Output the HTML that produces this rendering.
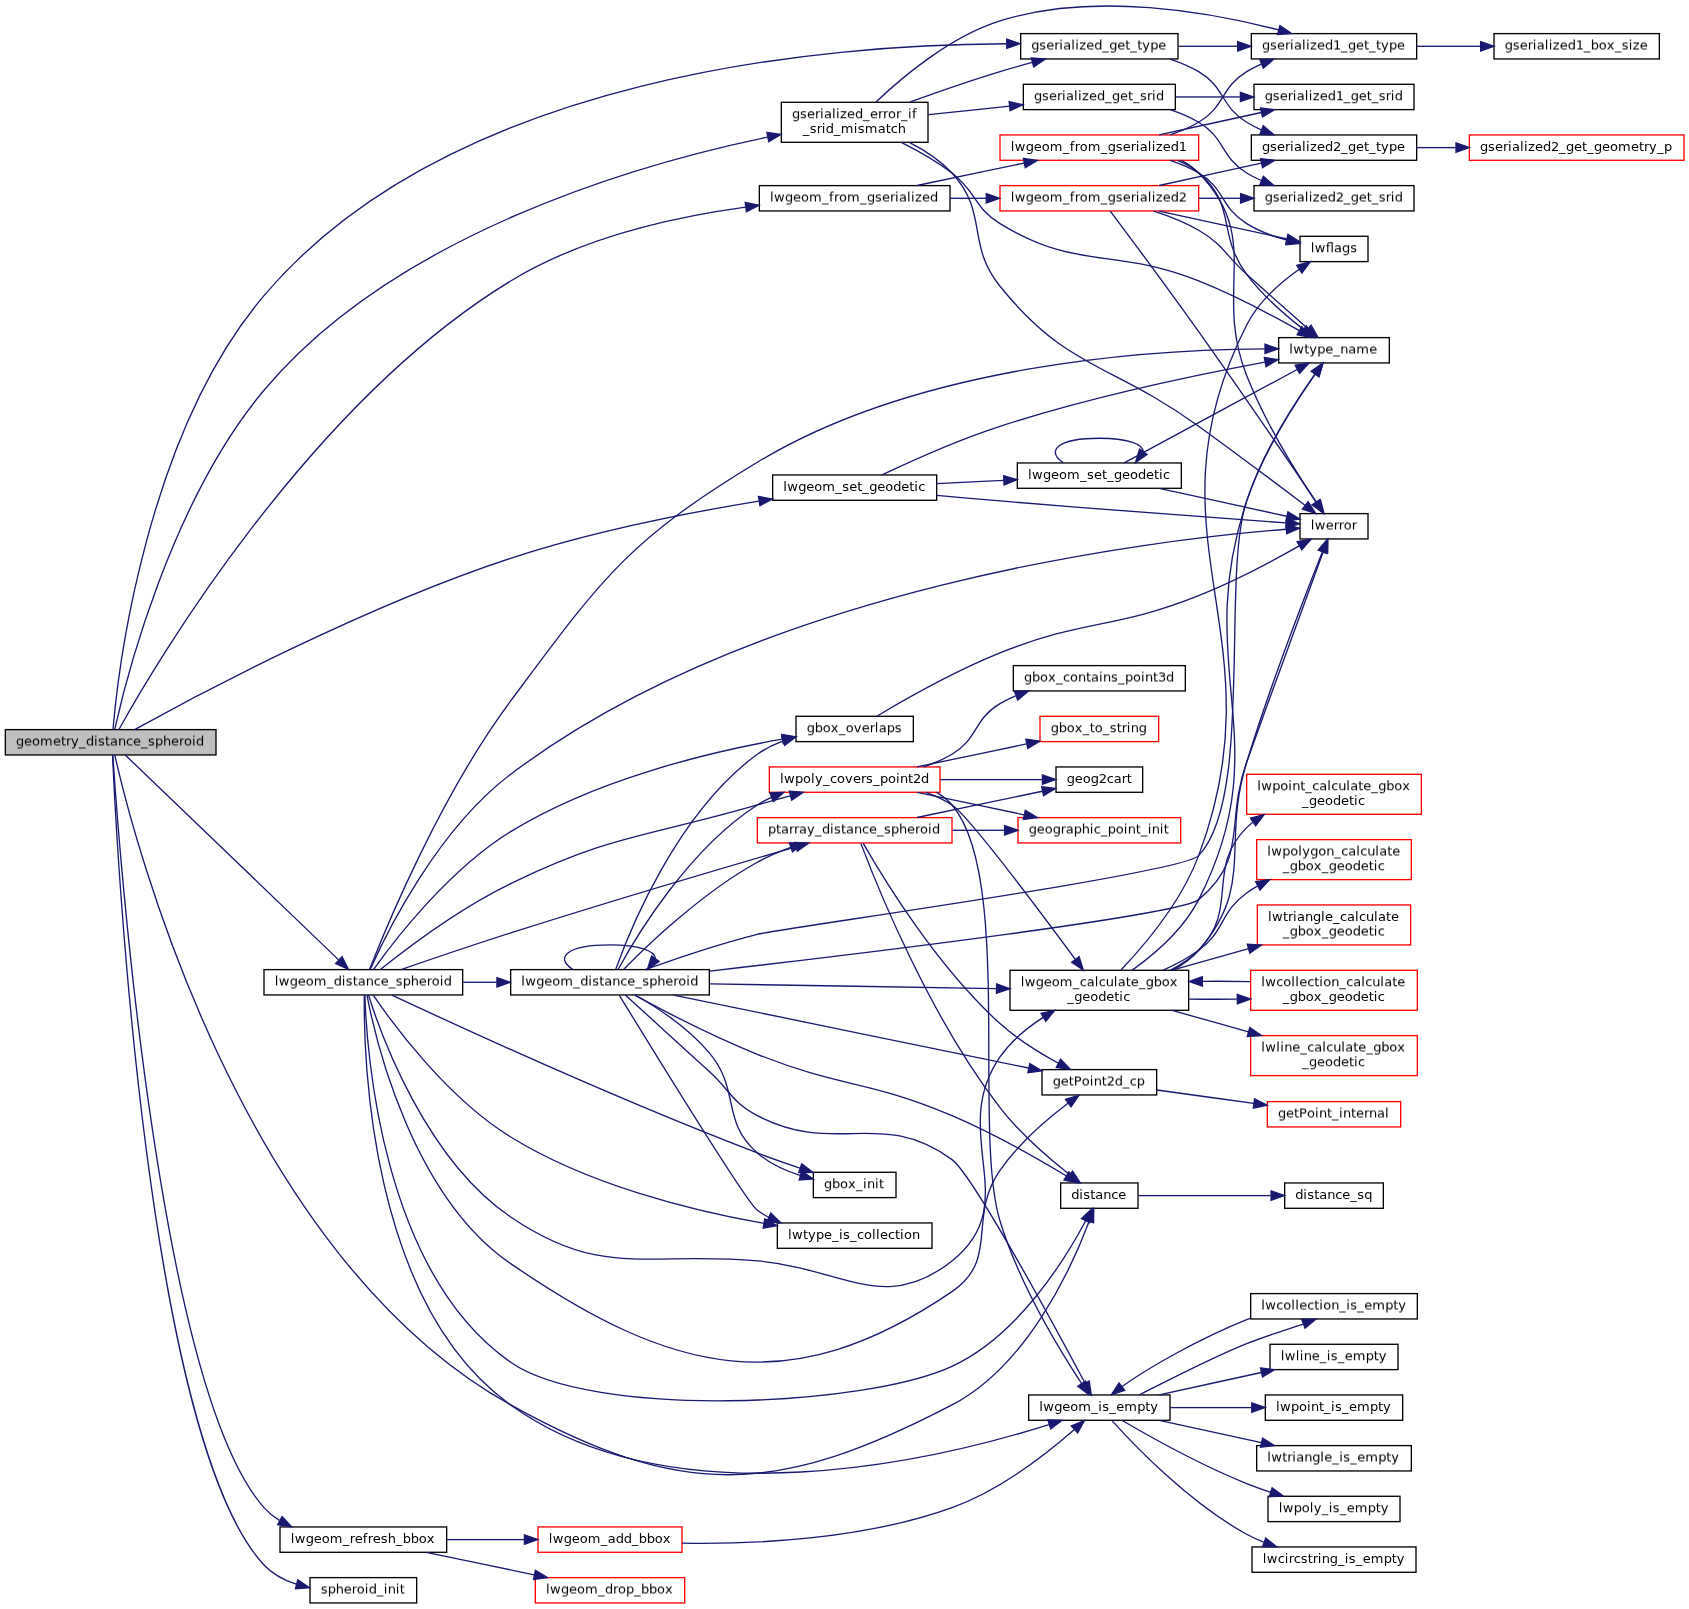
<!DOCTYPE html>
<html lang="en">
<head>
<meta charset="utf-8">
<title>geometry_distance_spheroid call graph</title>
<style>
html,body{margin:0;padding:0;background:#fff;}
body{width:1689px;height:1609px;overflow:hidden;}
svg{display:block;will-change:transform;}
text{font-family:"DejaVu Sans","Liberation Sans",sans-serif;font-size:9.75px;fill:#000;font-variant-ligatures:none;font-kerning:none;filter:url(#fn);}
text.lig{font-variant-ligatures:normal;}
text.h{filter:url(#fh);}
text.q{filter:url(#fq);}
</style>
</head>
<body>
<svg width="1689" height="1609" viewBox="0 0 1266.75 1206.75">
<defs><filter id="fn" x="-2%" y="-40%" width="104%" height="180%" color-interpolation-filters="sRGB"><feOffset in="SourceGraphic" dx="0" dy="0"/></filter><filter id="fh" x="-2%" y="-40%" width="104%" height="180%" color-interpolation-filters="sRGB"><feOffset in="SourceGraphic" dy="0.75" result="o"/><feComposite in="SourceGraphic" in2="o" operator="arithmetic" k1="0" k2="0.5" k3="0.5" k4="0"/></filter><filter id="fq" x="-2%" y="-40%" width="104%" height="180%" color-interpolation-filters="sRGB"><feOffset in="SourceGraphic" dy="0.75" result="o"/><feComposite in="SourceGraphic" in2="o" operator="arithmetic" k1="0" k2="0.75" k3="0.25" k4="0"/></filter></defs>
<g id="graph0" class="graph" transform="translate(4 1202.71)">
<polygon fill="white" stroke="none" points="-4,4 -4,-1202.71 1263,-1202.71 1263,4 -4,4"/>
<g id="node1" class="node">
<rect x="-0.5" y="-656" width="159" height="20" fill="black"/><rect x="0.5" y="-655" width="157" height="18" fill="#bfbfbf"/>
<text class="h" x="8 14 20 26 35.75 41.75 45.5 49.25 55.25 60.5 66.5 69.5 74.75 78.5 84.5 90.5 95.75 101.75 107 112.25 118.25 124.25 130.25 134 140 143" y="-643.96">geometry_distance_spheroid</text>
</g>
<g id="node2" class="node">
<rect x="791" y="-316" width="59" height="20" fill="black"/><rect x="792" y="-315" width="57" height="18" fill="white"/>
<text x="799.438 805.438 808.438 813.688 817.438 823.438 829.438 834.688" y="-303.46">distance</text>
</g>
<g id="edge1" class="edge">
<path fill="none" stroke="midnightblue" d="M82.09,-636.33C95.5,-577.11 175.28,-262.31 379,-149 507.56,-77.49 579.57,-80.95 710,-149 766.34,-178.39 799.61,-251.47 812.84,-286.57"/>
<polygon fill="midnightblue" stroke="midnightblue" points="809.61,-287.94 816.3,-296.16 816.19,-285.56 809.61,-287.94"/>
</g>
<g id="node4" class="node">
<rect x="581.5" y="-1126.5" width="111" height="31" fill="black"/><rect x="582.5" y="-1125.5" width="109" height="29" fill="white"/>
<text class="q" x="590 596 601.25 607.25 611 614 620 623 626 631.25 637.25 643.25 648.5 654.5 658.25 662 668 671.75 677 680" y="-1114.21">gserialized_error_if</text>
<text x="598.062 603.312 608.562 612.312 615.312 621.312 626.562 636.312 639.312 644.562 654.312 660.312 664.062 669.312" y="-1102.96">_srid_mismatch</text>
</g>
<g id="edge3" class="edge">
<path fill="none" stroke="midnightblue" d="M82.05,-655.7C90.27,-692.58 123.76,-826.22 194,-910 292.73,-1027.76 474.98,-1079.73 571.74,-1099.9"/>
<polygon fill="midnightblue" stroke="midnightblue" points="571.19,-1103.35 581.68,-1101.92 572.58,-1096.49 571.19,-1103.35"/>
</g>
<g id="node10" class="node">
<rect x="761" y="-1178" width="119" height="20" fill="black"/><rect x="762" y="-1177" width="117" height="18" fill="white"/>
<text class="h" x="769.438 775.438 780.688 786.688 790.438 793.438 799.438 802.438 805.438 810.688 816.688 822.688 827.938 833.938 839.938 843.688 848.938 852.688 858.688 864.688" y="-1165.96">gserialized_get_type</text>
</g>
<g id="edge15" class="edge">
<path fill="none" stroke="midnightblue" d="M80.75,-655.76C84.55,-699.08 105.15,-876.31 194,-981 335.74,-1148.01 619.97,-1169.43 750.76,-1169.9"/>
<polygon fill="midnightblue" stroke="midnightblue" points="751.04,-1173.4 761.04,-1169.9 751.04,-1166.4 751.04,-1173.4"/>
</g>
<g id="node15" class="node">
<rect x="193.5" y="-476" width="150" height="20" fill="black"/><rect x="194.5" y="-475" width="148" height="18" fill="white"/>
<text class="h" x="202.062 205.062 213.312 219.312 225.312 231.312 241.062 246.312 252.312 255.312 260.562 264.312 270.312 276.312 281.562 287.562 292.812 298.062 304.062 310.062 316.062 319.812 325.812 328.812" y="-463.96">lwgeom_distance_spheroid</text>
</g>
<g id="edge16" class="edge">
<path fill="none" stroke="midnightblue" d="M90.08,-636.32C120.48,-607.14 211.49,-519.77 249.99,-482.81"/>
<polygon fill="midnightblue" stroke="midnightblue" points="252.58,-485.18 257.37,-475.73 247.73,-480.13 252.58,-485.18"/>
</g>
<g id="node42" class="node">
<rect x="565" y="-1064" width="144" height="20" fill="black"/><rect x="566" y="-1063" width="142" height="18" fill="white"/>
<text class="h" x="573.5 576.5 584.75 590.75 596.75 602.75 612.5 617.75 621.5 625.25 631.25 641 646.25 652.25 657.5 663.5 667.25 670.25 676.25 679.25 682.25 687.5 693.5" y="-1051.96">lwgeom_from_gserialized</text>
</g>
<g id="edge69" class="edge">
<path fill="none" stroke="midnightblue" d="M85.21,-655.6C110.58,-701.33 226.14,-898.82 379,-992 432.48,-1024.6 501.96,-1040.06 555.2,-1047.39"/>
<polygon fill="midnightblue" stroke="midnightblue" points="554.91,-1050.88 565.28,-1048.71 555.82,-1043.94 554.91,-1050.88"/>
</g>
<g id="node45" class="node">
<rect x="205.5" y="-58" width="126" height="20" fill="black"/><rect x="206.5" y="-57" width="124" height="18" fill="white"/>
<text x="214.062 217.062 225.312 231.312 237.312 243.312 253.062 258.312 262.062 268.062 271.812 275.562 281.562 286.812 292.812 298.062 304.062 310.062 316.062" y="-45.46">lwgeom_refresh_bbox</text>
</g>
<g id="edge82" class="edge">
<path fill="none" stroke="midnightblue" d="M80.6,-636.42C85.07,-568.6 114.95,-161.12 194,-72 197.33,-68.24 201.26,-65.07 205.54,-62.4"/>
<polygon fill="midnightblue" stroke="midnightblue" points="207.51,-65.32 214.73,-57.57 204.25,-59.12 207.51,-65.32"/>
</g>
<g id="node48" class="node">
<rect x="575" y="-847" width="124" height="20" fill="black"/><rect x="576" y="-846" width="122" height="18" fill="white"/>
<text x="583.438 586.438 594.688 600.688 606.688 612.688 622.438 627.688 632.938 638.938 642.688 647.938 653.938 659.938 665.938 671.938 677.938 681.688 684.688" y="-834.46">lwgeom_set_geodetic</text>
</g>
<g id="edge86" class="edge">
<path fill="none" stroke="midnightblue" d="M96.96,-655.52C141.69,-680.26 267.13,-747.19 379,-784 440.46,-804.22 512.83,-818.32 565.09,-826.87"/>
<polygon fill="midnightblue" stroke="midnightblue" points="564.83,-830.37 575.26,-828.5 565.95,-823.46 564.83,-830.37"/>
</g>
<g id="node50" class="node">
<rect x="228" y="-20" width="81" height="20" fill="black"/><rect x="229" y="-19" width="79" height="18" fill="white"/>
<text class="h" x="236.562 241.812 247.812 253.812 259.812 263.562 269.562 272.562 278.562 283.812 286.812 292.812 295.812" y="-7.96">spheroid_init</text>
</g>
<g id="edge93" class="edge">
<path fill="none" stroke="midnightblue" d="M80.41,-636.12C83.62,-564.29 106.73,-122.63 194,-29 200.47,-22.06 209.11,-17.52 218.19,-14.58"/>
<polygon fill="midnightblue" stroke="midnightblue" points="219.34,-17.9 228.13,-11.98 217.57,-11.13 219.34,-17.9"/>
</g>
<g id="node3" class="node">
<rect x="959" y="-316" width="75" height="20" fill="black"/><rect x="960" y="-315" width="73" height="18" fill="white"/>
<text x="967.438 973.438 976.438 981.688 985.438 991.438 997.438 1002.688 1008.688 1013.938 1019.188" y="-303.46">distance_sq</text>
</g>
<g id="edge2" class="edge">
<rect x="849.84" y="-306.5" width="99.15" height="1" fill="midnightblue"/>
<polygon fill="midnightblue" stroke="midnightblue" points="949.31,-309.5 959.31,-306 949.31,-302.5 949.31,-309.5"/>
</g>
<g id="node5" class="node">
<rect x="934" y="-1178" width="125" height="20" fill="black"/><rect x="935" y="-1177" width="123" height="18" fill="white"/>
<text class="h" x="942.5 948.5 953.75 959.75 963.5 966.5 972.5 975.5 978.5 983.75 989.75 995.75 1001.75 1007 1013 1019 1022.75 1028 1031.75 1037.75 1043.75" y="-1165.96">gserialized1_get_type</text>
</g>
<g id="edge4" class="edge">
<path fill="none" stroke="midnightblue" d="M652.77,-1126.01C672.16,-1144.53 708.19,-1175.03 746,-1187 816.91,-1209.45 904.56,-1193.37 954.85,-1180.26"/>
<polygon fill="midnightblue" stroke="midnightblue" points="955.95,-1183.59 964.7,-1177.61 954.13,-1176.83 955.95,-1183.59"/>
</g>
<g id="node7" class="node">
<rect x="763" y="-1140" width="115" height="20" fill="black"/><rect x="764" y="-1139" width="113" height="18" fill="white"/>
<text class="q" x="771.5 777.5 782.75 788.75 792.5 795.5 801.5 804.5 807.5 812.75 818.75 824.75 830 836 842 845.75 851 856.25 860 863" y="-1127.71">gserialized_get_srid</text>
</g>
<g id="edge6" class="edge">
<path fill="none" stroke="midnightblue" d="M692.46,-1116.7C711.57,-1118.7 733.26,-1120.97 753.24,-1123.06"/>
<polygon fill="midnightblue" stroke="midnightblue" points="752.89,-1126.55 763.2,-1124.11 753.61,-1119.58 752.89,-1126.55"/>
</g>
<g id="edge9" class="edge">
<path fill="none" stroke="midnightblue" d="M678.25,-1126.08C698.45,-1133.41 723.37,-1142.11 746,-1149 753.8,-1151.38 762.12,-1153.71 770.25,-1155.89"/>
<polygon fill="midnightblue" stroke="midnightblue" points="769.48,-1159.3 780.04,-1158.46 771.26,-1152.53 769.48,-1159.3"/>
</g>
<g id="node13" class="node">
<rect x="970.5" y="-818" width="52" height="20" fill="black"/><rect x="971.5" y="-817" width="50" height="18" fill="white"/>
<text class="h" x="979.062 982.062 990.312 996.312 1000.062 1003.812 1009.812" y="-805.96">lwerror</text>
</g>
<g id="edge13" class="edge">
<path fill="none" stroke="midnightblue" d="M677.96,-1095.99C689.43,-1090.18 701.2,-1082.58 710,-1073 737.75,-1042.78 720.24,-1019.93 746,-988 796.86,-924.94 829.42,-930.56 895,-883 922.79,-862.85 954.47,-839.07 974.71,-823.78"/>
<polygon fill="midnightblue" stroke="midnightblue" points="977.03,-826.41 982.89,-817.58 972.8,-820.83 977.03,-826.41"/>
</g>
<g id="node14" class="node">
<rect x="954.5" y="-950" width="84" height="20" fill="black"/><rect x="955.5" y="-949" width="82" height="18" fill="white"/>
<text class="h" x="962.938 965.938 974.188 977.938 983.938 989.938 995.938 1001.188 1007.188 1013.188 1022.938" y="-937.96">lwtype_name</text>
</g>
<g id="edge14" class="edge">
<path fill="none" stroke="midnightblue" d="M671.98,-1095.93C684.48,-1089.67 698.4,-1081.8 710,-1073 728.53,-1058.94 726.13,-1047.09 746,-1035 804.88,-999.17 830.97,-1017.52 895,-992 921.62,-981.39 950.54,-965.98 970.49,-954.7"/>
<polygon fill="midnightblue" stroke="midnightblue" points="972.32,-957.68 979.25,-949.68 968.84,-951.61 972.32,-957.68"/>
</g>
<g id="node6" class="node">
<rect x="1116" y="-1178" width="125" height="20" fill="black"/><rect x="1117" y="-1177" width="123" height="18" fill="white"/>
<text class="h" x="1124.562 1130.562 1135.812 1141.812 1145.562 1148.562 1154.562 1157.562 1160.562 1165.812 1171.812 1177.812 1183.812 1189.062 1195.062 1201.062 1207.062 1212.312 1217.562 1220.562 1225.812" y="-1165.96">gserialized1_box_size</text>
</g>
<g id="edge5" class="edge">
<rect x="1058.69" y="-1168.5" width="47.58" height="1" fill="midnightblue"/>
<polygon fill="midnightblue" stroke="midnightblue" points="1106.48,-1171.5 1116.48,-1168 1106.48,-1164.5 1106.48,-1171.5"/>
</g>
<g id="node8" class="node">
<rect x="936" y="-1140" width="121" height="20" fill="black"/><rect x="937" y="-1139" width="119" height="18" fill="white"/>
<text class="q" x="944.562 950.562 955.812 961.812 965.562 968.562 974.562 977.562 980.562 985.812 991.812 997.812 1003.812 1009.062 1015.062 1021.062 1024.812 1030.062 1035.312 1039.062 1042.062" y="-1127.71">gserialized1_get_srid</text>
</g>
<g id="edge7" class="edge">
<rect x="877.51" y="-1130.5" width="48.37" height="1" fill="midnightblue"/>
<polygon fill="midnightblue" stroke="midnightblue" points="926.29,-1133.5 936.29,-1130 926.29,-1126.5 926.29,-1133.5"/>
</g>
<g id="node9" class="node">
<rect x="936" y="-1064" width="121" height="20" fill="black"/><rect x="937" y="-1063" width="119" height="18" fill="white"/>
<text class="h" x="944.562 950.562 955.812 961.812 965.562 968.562 974.562 977.562 980.562 985.812 991.812 997.812 1003.812 1009.062 1015.062 1021.062 1024.812 1030.062 1035.312 1039.062 1042.062" y="-1051.96">gserialized2_get_srid</text>
</g>
<g id="edge8" class="edge">
<path fill="none" stroke="midnightblue" d="M873.57,-1120.45C881.04,-1117.98 888.41,-1114.88 895,-1111 915.04,-1099.19 911.16,-1085.15 931,-1073 934.43,-1070.9 938.1,-1069.02 941.9,-1067.34"/>
<polygon fill="midnightblue" stroke="midnightblue" points="943.47,-1070.48 951.49,-1063.57 940.9,-1063.97 943.47,-1070.48"/>
</g>
<g id="edge10" class="edge">
<rect x="879.92" y="-1168.5" width="44.26" height="1" fill="midnightblue"/>
<polygon fill="midnightblue" stroke="midnightblue" points="924.25,-1171.5 934.25,-1168 924.25,-1164.5 924.25,-1171.5"/>
</g>
<g id="node11" class="node">
<rect x="934" y="-1102" width="125" height="20" fill="black"/><rect x="935" y="-1101" width="123" height="18" fill="white"/>
<text x="942.5 948.5 953.75 959.75 963.5 966.5 972.5 975.5 978.5 983.75 989.75 995.75 1001.75 1007 1013 1019 1022.75 1028 1031.75 1037.75 1043.75" y="-1089.46">gserialized2_get_type</text>
</g>
<g id="edge11" class="edge">
<path fill="none" stroke="midnightblue" d="M873.57,-1158.45C881.04,-1155.98 888.41,-1152.88 895,-1149 915.04,-1137.19 911.16,-1123.15 931,-1111 934.43,-1108.9 938.1,-1107.02 941.9,-1105.34"/>
<polygon fill="midnightblue" stroke="midnightblue" points="943.47,-1108.48 951.49,-1101.57 940.9,-1101.97 943.47,-1108.48"/>
</g>
<g id="node12" class="node">
<rect x="1097.5" y="-1102" width="162" height="20" fill="red"/><rect x="1098.5" y="-1101" width="160" height="18" fill="white"/>
<text x="1106 1112 1117.25 1123.25 1127 1130 1136 1139 1142 1147.25 1153.25 1159.25 1165.25 1170.5 1176.5 1182.5 1186.25 1191.5 1197.5 1203.5 1209.5 1219.25 1225.25 1229 1232.75 1238.75 1244" y="-1089.46">gserialized2_get_geometry_p</text>
</g>
<g id="edge12" class="edge">
<rect x="1058.69" y="-1092.5" width="29.07" height="1" fill="midnightblue"/>
<polygon fill="midnightblue" stroke="midnightblue" points="1087.99,-1095.5 1097.99,-1092 1087.99,-1088.5 1087.99,-1095.5"/>
</g>
<g id="edge17" class="edge">
<path fill="none" stroke="midnightblue" d="M269.66,-456.39C270.93,-414.72 282.12,-248.72 379,-181 439.29,-138.85 643.19,-147.23 710,-178 759.16,-200.64 794.47,-257.45 810.26,-287.18"/>
<polygon fill="midnightblue" stroke="midnightblue" points="807.18,-288.84 814.86,-296.14 813.41,-285.65 807.18,-288.84"/>
</g>
<g id="edge23" class="edge">
<path fill="none" stroke="midnightblue" d="M273.63,-475.63C285.74,-502.74 323.78,-580.37 379,-622 566.12,-763.07 860.13,-797.82 960.54,-805.79"/>
<polygon fill="midnightblue" stroke="midnightblue" points="960.5,-809.29 970.73,-806.55 961.02,-802.31 960.5,-809.29"/>
</g>
<g id="edge67" class="edge">
<path fill="none" stroke="midnightblue" d="M273.29,-475.89C285.55,-507.25 326.48,-606.51 379,-677 447.35,-768.75 466.09,-796.82 564,-856 685.95,-929.71 859.55,-940.58 944.58,-941.07"/>
<polygon fill="midnightblue" stroke="midnightblue" points="944.75,-944.57 954.75,-941.08 944.75,-937.57 944.75,-944.57"/>
</g>
<g id="node16" class="node">
<rect x="605.5" y="-324" width="63" height="20" fill="black"/><rect x="606.5" y="-323" width="61" height="18" fill="white"/>
<text class="q" x="614 620 626 632 638 643.25 646.25 652.25 655.25" y="-311.71">gbox_init</text>
</g>
<g id="edge18" class="edge">
<path fill="none" stroke="midnightblue" d="M289.95,-456.37C337.49,-434.13 459.36,-378.09 564,-338 574.26,-334.07 585.47,-330.16 595.92,-326.66"/>
<polygon fill="midnightblue" stroke="midnightblue" points="597.26,-329.91 605.66,-323.45 595.07,-323.26 597.26,-329.91"/>
</g>
<g id="node17" class="node">
<rect x="592.5" y="-666" width="89" height="20" fill="black"/><rect x="593.5" y="-665" width="87" height="18" fill="white"/>
<text class="q" x="601.062 607.062 613.062 619.062 625.062 630.312 636.312 642.312 648.312 652.062 655.062 661.062 667.062" y="-653.71">gbox_overlaps</text>
</g>
<g id="edge19" class="edge">
<path fill="none" stroke="midnightblue" d="M276.25,-475.74C291.82,-497.49 332.49,-550.33 379,-579 442.88,-618.38 528.15,-638.69 582.58,-648.34"/>
<polygon fill="midnightblue" stroke="midnightblue" points="582.26,-651.83 592.71,-650.07 583.44,-644.93 582.26,-651.83"/>
</g>
<g id="node18" class="node">
<rect x="777" y="-401" width="87" height="20" fill="black"/><rect x="778" y="-400" width="85" height="18" fill="white"/>
<text class="h" x="785.562 791.562 797.562 801.312 807.312 813.312 816.312 822.312 826.062 832.062 838.062 843.312 848.562" y="-388.96">getPoint2d_cp</text>
</g>
<g id="edge21" class="edge">
<path fill="none" stroke="midnightblue" d="M271.21,-456.34C277.84,-422.07 305.21,-305.76 379,-255 500.45,-171.46 588.09,-151.13 710,-234 745.97,-258.45 721.16,-289.3 746,-325 759.88,-344.95 780.93,-363.05 796.95,-375.22"/>
<polygon fill="midnightblue" stroke="midnightblue" points="795.12,-378.23 805.25,-381.35 799.28,-372.59 795.12,-378.23"/>
</g>
<g id="node20" class="node">
<rect x="753" y="-475.5" width="135" height="31" fill="black"/><rect x="754" y="-474.5" width="133" height="29" fill="white"/>
<text class="q" x="761.562 764.562 772.812 778.812 784.812 790.812 800.562 805.812 811.062 817.062 820.062 825.312 831.312 834.312 840.312 844.062 850.062 855.312 861.312 867.312 873.312" y="-463.21">lwgeom_calculate_gbox</text>
<text x="796.438 801.688 807.688 813.688 819.688 825.688 831.688 835.438 838.438" y="-451.96">_geodetic</text>
</g>
<g id="edge24" class="edge">
<path fill="none" stroke="midnightblue" d="M272.36,-456.41C281.88,-426.28 315.54,-332.99 379,-290 448.15,-243.16 480.81,-264.36 564,-257 628.64,-251.28 659.13,-216.71 710,-257 764.76,-300.37 706.43,-352.43 746,-410 754.23,-421.97 766.35,-431.9 778.38,-439.67"/>
<polygon fill="midnightblue" stroke="midnightblue" points="776.71,-442.75 787.07,-444.95 780.34,-436.77 776.71,-442.75"/>
</g>
<g id="node27" class="node">
<rect x="378.5" y="-476" width="150" height="20" fill="black"/><rect x="379.5" y="-475" width="148" height="18" fill="white"/>
<text class="h" x="386.938 389.938 398.188 404.188 410.188 416.188 425.938 431.188 437.188 440.188 445.438 449.188 455.188 461.188 466.438 472.438 477.688 482.938 488.938 494.938 500.938 504.688 510.688 513.688" y="-463.96">lwgeom_distance_spheroid</text>
</g>
<g id="edge34" class="edge">
<rect x="343.14" y="-466.5" width="25.32" height="1" fill="midnightblue"/>
<polygon fill="midnightblue" stroke="midnightblue" points="368.71,-469.5 378.71,-466 368.71,-462.5 368.71,-469.5"/>
</g>
<g id="node28" class="node">
<rect x="767" y="-157" width="107" height="20" fill="black"/><rect x="768" y="-156" width="105" height="18" fill="white"/>
<text x="775.438 778.438 786.688 792.688 798.688 804.688 814.438 819.688 822.688 827.938 833.188 839.188 848.938 854.938 858.688" y="-144.46">lwgeom_is_empty</text>
</g>
<g id="edge64" class="edge">
<path fill="none" stroke="midnightblue" d="M269.24,-456.24C268.63,-411.51 272.72,-225.1 379,-149 503.03,-60.19 701.21,-108.56 782.69,-134.26"/>
<polygon fill="midnightblue" stroke="midnightblue" points="781.9,-137.68 792.49,-137.42 784.05,-131.02 781.9,-137.68"/>
</g>
<g id="node35" class="node">
<rect x="572.5" y="-628" width="129" height="20" fill="red"/><rect x="573.5" y="-627" width="127" height="18" fill="white"/>
<text x="581 584 592.25 598.25 604.25 607.25 613.25 618.5 623.75 629.75 635.75 641.75 645.5 650.75 656 662 668 671 677 680.75 686.75" y="-615.46">lwpoly_covers_point2d</text>
</g>
<g id="edge65" class="edge">
<path fill="none" stroke="midnightblue" d="M281.28,-475.65C300.63,-491.08 340.81,-521.48 379,-540 456.65,-577.66 481.14,-574.87 564,-599 571.94,-601.31 580.41,-603.66 588.65,-605.87"/>
<polygon fill="midnightblue" stroke="midnightblue" points="587.97,-609.31 598.53,-608.5 589.77,-602.55 587.97,-609.31"/>
</g>
<g id="node40" class="node">
<rect x="578.5" y="-286" width="117" height="20" fill="black"/><rect x="579.5" y="-285" width="115" height="18" fill="white"/>
<text x="587 590 598.25 602 608 614 620 625.25 628.25 633.5 638.75 644 650 653 656 662 667.25 671 674 680" y="-273.46">lwtype_is_collection</text>
</g>
<g id="edge66" class="edge">
<path fill="none" stroke="midnightblue" d="M275.93,-456.28C291.13,-434.05 331.59,-379.17 379,-350 437.63,-313.92 514.56,-294.81 568.92,-285.12"/>
<polygon fill="midnightblue" stroke="midnightblue" points="569.54,-288.56 578.8,-283.42 568.35,-281.66 569.54,-288.56"/>
</g>
<g id="node41" class="node">
<rect x="563.5" y="-590" width="147" height="20" fill="red"/><rect x="564.5" y="-589" width="145" height="18" fill="white"/>
<text class="h" x="572 578 581.75 587.75 591.5 595.25 601.25 607.25 612.5 618.5 621.5 626.75 630.5 636.5 642.5 647.75 653.75 659 664.25 670.25 676.25 682.25 686 692 695" y="-577.96">ptarray_distance_spheroid</text>
</g>
<g id="edge68" class="edge">
<path fill="none" stroke="midnightblue" d="M296.86,-475.54C318.96,-483.17 350.89,-494.04 379,-503 453.89,-526.86 541.72,-552.72 592.89,-567.58"/>
<polygon fill="midnightblue" stroke="midnightblue" points="592.04,-570.98 602.62,-570.4 593.99,-564.25 592.04,-570.98"/>
</g>
<g id="edge20" class="edge">
<path fill="none" stroke="midnightblue" d="M653.61,-665.55C674.19,-677.83 711.79,-699.2 746,-713 809.92,-738.78 830.97,-730.48 895,-756 921.62,-766.61 950.54,-782.02 970.49,-793.3"/>
<polygon fill="midnightblue" stroke="midnightblue" points="968.84,-796.39 979.25,-798.32 972.32,-790.32 968.84,-796.39"/>
</g>
<g id="node19" class="node">
<rect x="946" y="-377" width="101" height="20" fill="red"/><rect x="947" y="-376" width="99" height="18" fill="white"/>
<text class="h" x="954.5 960.5 966.5 970.25 976.25 982.25 985.25 991.25 995 1000.25 1003.25 1009.25 1013 1019 1022.75 1028.75 1034.75" y="-364.96">getPoint_internal</text>
</g>
<g id="edge22" class="edge">
<path fill="none" stroke="midnightblue" d="M863.62,-385.19C885.45,-382.18 912.46,-378.45 936.34,-375.16"/>
<polygon fill="midnightblue" stroke="midnightblue" points="936.94,-378.61 946.37,-373.78 935.98,-371.68 936.94,-378.61"/>
</g>
<g id="edge27" class="edge">
<path fill="none" stroke="midnightblue" d="M875.6,-475.06C882.88,-478.97 889.66,-483.87 895,-490 937.48,-538.77 911.9,-569.21 931,-631 948.96,-689.11 974.86,-756.21 987.69,-788.56"/>
<polygon fill="midnightblue" stroke="midnightblue" points="984.56,-790.15 991.51,-798.14 991.06,-787.55 984.56,-790.15"/>
</g>
<g id="edge33" class="edge">
<path fill="none" stroke="midnightblue" d="M845.21,-475.11C862.09,-487.24 883.7,-505.86 895,-528 955.86,-647.21 888.99,-699.91 931,-827 942.97,-863.22 967.22,-900.83 982.33,-922.23"/>
<polygon fill="midnightblue" stroke="midnightblue" points="979.5,-924.29 988.19,-930.36 985.18,-920.2 979.5,-924.29"/>
</g>
<g id="node21" class="node">
<rect x="933.5" y="-475.5" width="126" height="31" fill="red"/><rect x="934.5" y="-474.5" width="124" height="29" fill="white"/>
<text class="q" x="941.938 944.938 953.188 958.438 964.438 967.438 970.438 976.438 981.688 985.438 988.438 994.438 1000.438 1005.688 1010.938 1016.938 1019.938 1025.188 1031.188 1034.188 1040.188 1043.938" y="-463.21">lwcollection_calculate</text>
<text x="958.062 963.312 969.312 975.312 981.312 987.312 992.562 998.562 1004.562 1010.562 1016.562 1022.562 1026.312 1029.312" y="-451.96">_gbox_geodetic</text>
</g>
<g id="edge25" class="edge">
<path fill="none" stroke="midnightblue" d="M887.78,-453.42C899.51,-453.22 911.79,-453.2 923.67,-453.34"/>
<polygon fill="midnightblue" stroke="midnightblue" points="923.93,-456.85 933.98,-453.51 924.04,-449.85 923.93,-456.85"/>
</g>
<g id="node22" class="node">
<rect x="970.5" y="-1026" width="52" height="20" fill="black"/><rect x="971.5" y="-1025" width="50" height="18" fill="white"/>
<text class="q lig" x="979.062 982.062 990.312" y="-1013.71">lwflags</text>
</g>
<g id="edge28" class="edge">
<path fill="none" stroke="midnightblue" d="M836.73,-475.18C854.2,-493.67 882.1,-526.7 895,-561 957.51,-727.25 850.78,-800.54 931,-959 939.78,-976.33 956.27,-990.76 970.39,-1000.77"/>
<polygon fill="midnightblue" stroke="midnightblue" points="968.53,-1003.73 978.78,-1006.41 972.43,-997.93 968.53,-1003.73"/>
</g>
<g id="node23" class="node">
<rect x="933.5" y="-426.5" width="126" height="31" fill="red"/><rect x="934.5" y="-425.5" width="124" height="29" fill="white"/>
<text class="h" x="941.938 944.938 953.188 956.188 959.188 965.188 971.188 976.438 981.688 987.688 990.688 995.938 1001.938 1004.938 1010.938 1014.688 1020.688 1025.938 1031.938 1037.938 1043.938" y="-414.46">lwline_calculate_gbox</text>
<text class="q" x="972.5 977.75 983.75 989.75 995.75 1001.75 1007.75 1011.5 1014.5" y="-403.21">_geodetic</text>
</g>
<g id="edge29" class="edge">
<path fill="none" stroke="midnightblue" d="M875.13,-444.9C893.24,-439.8 913.62,-434.06 932.4,-428.77"/>
<polygon fill="midnightblue" stroke="midnightblue" points="933.37,-432.13 942.05,-426.05 931.48,-425.39 933.37,-432.13"/>
</g>
<g id="node24" class="node">
<rect x="930.5" y="-622.5" width="132" height="31" fill="red"/><rect x="931.5" y="-621.5" width="130" height="29" fill="white"/>
<text class="q" x="938.938 941.938 950.188 956.188 962.188 965.188 971.188 974.938 980.188 985.438 991.438 994.438 999.688 1005.688 1008.688 1014.688 1018.438 1024.438 1029.688 1035.688 1041.688 1047.688" y="-610.21">lwpoint_calculate_gbox</text>
<text x="972.5 977.75 983.75 989.75 995.75 1001.75 1007.75 1011.5 1014.5" y="-598.96">_geodetic</text>
</g>
<g id="edge30" class="edge">
<path fill="none" stroke="midnightblue" d="M873.82,-475.09C881.6,-479.02 889,-483.91 895,-490 925.82,-521.27 899.9,-551 931,-582 932.44,-583.43 933.96,-584.78 935.56,-586.06"/>
<polygon fill="midnightblue" stroke="midnightblue" points="933.84,-589.12 944.08,-591.82 937.76,-583.32 933.84,-589.12"/>
</g>
<g id="node25" class="node">
<rect x="938" y="-573.5" width="117" height="31" fill="red"/><rect x="939" y="-572.5" width="115" height="29" fill="white"/>
<text class="h" x="946.438 949.438 957.688 963.688 969.688 972.688 978.688 984.688 990.688 996.688 1001.938 1007.188 1013.188 1016.188 1021.438 1027.438 1030.438 1036.438 1040.188" y="-561.46">lwpolygon_calculate</text>
<text class="q" x="958.062 963.312 969.312 975.312 981.312 987.312 992.562 998.562 1004.562 1010.562 1016.562 1022.562 1026.312 1029.312" y="-550.21">_gbox_geodetic</text>
</g>
<g id="edge31" class="edge">
<path fill="none" stroke="midnightblue" d="M868.41,-475.15C877.67,-479.22 886.99,-484.15 895,-490 915.13,-504.7 910.74,-518.48 931,-533 933.64,-534.89 936.43,-536.66 939.33,-538.31"/>
<polygon fill="midnightblue" stroke="midnightblue" points="937.76,-541.44 948.25,-542.92 940.97,-535.22 937.76,-541.44"/>
</g>
<g id="node26" class="node">
<rect x="938.5" y="-524.5" width="116" height="31" fill="red"/><rect x="939.5" y="-523.5" width="114" height="29" fill="white"/>
<text x="947 950 958.25 962 965.75 968.75 974.75 980.75 986.75 989.75 995.75 1001 1006.25 1012.25 1015.25 1020.5 1026.5 1029.5 1035.5 1039.25" y="-511.96">lwtriangle_calculate</text>
<text class="h" x="958.062 963.312 969.312 975.312 981.312 987.312 992.562 998.562 1004.562 1010.562 1016.562 1022.562 1026.312 1029.312" y="-501.46">_gbox_geodetic</text>
</g>
<g id="edge32" class="edge">
<path fill="none" stroke="midnightblue" d="M875.13,-475.1C893.24,-480.2 913.62,-485.94 932.4,-491.23"/>
<polygon fill="midnightblue" stroke="midnightblue" points="931.48,-494.61 942.05,-493.95 933.37,-487.87 931.48,-494.61"/>
</g>
<g id="edge26" class="edge">
<path fill="none" stroke="midnightblue" d="M933.98,-466.49C922.29,-466.73 909.93,-466.81 897.84,-466.7"/>
<polygon fill="midnightblue" stroke="midnightblue" points="897.82,-463.2 887.78,-466.58 897.73,-470.2 897.82,-463.2"/>
</g>
<g id="edge35" class="edge">
<path fill="none" stroke="midnightblue" d="M471.95,-456.36C493.24,-444.83 530.56,-425.42 564,-412 627.14,-386.66 647.42,-392.7 710,-366 740.71,-352.9 774.09,-333.85 795.83,-320.75"/>
<polygon fill="midnightblue" stroke="midnightblue" points="797.67,-323.72 804.38,-315.53 794.02,-317.75 797.67,-323.72"/>
</g>
<g id="edge39" class="edge">
<path fill="none" stroke="midnightblue" d="M528.26,-474.36C649.98,-488.45 880.97,-516.49 895,-528 932.49,-558.76 914.7,-585.33 931,-631 951.55,-688.56 976.47,-756.4 988.43,-788.84"/>
<polygon fill="midnightblue" stroke="midnightblue" points="985.21,-790.25 991.96,-798.42 991.78,-787.83 985.21,-790.25"/>
</g>
<g id="edge58" class="edge">
<path fill="none" stroke="midnightblue" d="M480.3,-475.63C502.3,-483.56 534.89,-494.66 564,-502 582.11,-506.57 882.07,-547.52 895,-561 936.29,-604.05 911.86,-770.5 931,-827 943.24,-863.13 967.4,-900.77 982.43,-922.2"/>
<polygon fill="midnightblue" stroke="midnightblue" points="979.58,-924.24 988.25,-930.34 985.28,-920.17 979.58,-924.24"/>
</g>
<g id="edge36" class="edge">
<path fill="none" stroke="midnightblue" d="M472.49,-456.49C488.71,-447.19 512.35,-431.7 528,-413 551.73,-384.64 536.26,-362.45 564,-338 573.02,-330.05 584.76,-324.72 596.13,-321.15"/>
<polygon fill="midnightblue" stroke="midnightblue" points="597.25,-324.47 605.96,-318.44 595.39,-317.72 597.25,-324.47"/>
</g>
<g id="edge37" class="edge">
<path fill="none" stroke="midnightblue" d="M457.74,-475.52C468.14,-504.6 503.6,-592.99 564,-637 569.69,-641.14 576.21,-644.38 582.96,-646.92"/>
<polygon fill="midnightblue" stroke="midnightblue" points="582.34,-650.4 592.93,-650.15 584.49,-643.74 582.34,-650.4"/>
</g>
<g id="edge38" class="edge">
<path fill="none" stroke="midnightblue" d="M501.1,-456.43C569.33,-442.4 696.04,-416.37 767.31,-401.72"/>
<polygon fill="midnightblue" stroke="midnightblue" points="768.32,-405.09 777.41,-399.65 766.91,-398.23 768.32,-405.09"/>
</g>
<g id="edge40" class="edge">
<path fill="none" stroke="midnightblue" d="M528.36,-464.79C590.82,-463.76 679.96,-462.29 743.11,-461.26"/>
<polygon fill="midnightblue" stroke="midnightblue" points="743.47,-464.75 753.41,-461.09 743.35,-457.75 743.47,-464.75"/>
</g>
<g id="edge41" class="edge">
<path fill="none" stroke="midnightblue" d="M425.45,-475.76C411.8,-484.57 421.15,-494 453.5,-494 475.74,-494 487.11,-489.54 487.61,-483.89"/>
<polygon fill="midnightblue" stroke="midnightblue" points="490.33,-481.69 481.55,-475.76 484.72,-485.87 490.33,-481.69"/>
</g>
<g id="edge42" class="edge">
<path fill="none" stroke="midnightblue" d="M464.98,-456.47C479.24,-443.48 505.57,-419.5 528,-399 544.02,-384.36 544.77,-376.06 564,-366 622.94,-335.15 656.27,-372.22 710,-333 725.44,-321.73 785.84,-210.24 809.72,-165.47"/>
<polygon fill="midnightblue" stroke="midnightblue" points="812.87,-167 814.47,-156.53 806.68,-163.71 812.87,-167"/>
</g>
<g id="edge50" class="edge">
<path fill="none" stroke="midnightblue" d="M459.66,-475.79C473.22,-500.53 512.38,-565.91 564,-599 567.33,-601.14 570.9,-603.03 574.59,-604.72"/>
<polygon fill="midnightblue" stroke="midnightblue" points="573.4,-608.01 583.99,-608.48 576.01,-601.51 573.4,-608.01"/>
</g>
<g id="edge57" class="edge">
<path fill="none" stroke="midnightblue" d="M460.51,-456.19C482.29,-420.68 556.24,-300.66 564,-295 566.66,-293.06 569.51,-291.32 572.48,-289.75"/>
<polygon fill="midnightblue" stroke="midnightblue" points="574.03,-292.89 581.69,-285.57 571.13,-286.52 574.03,-292.89"/>
</g>
<g id="edge59" class="edge">
<path fill="none" stroke="midnightblue" d="M463.86,-475.78C481.73,-493.95 522.65,-533.15 564,-556 571.79,-560.31 580.49,-564.01 589.07,-567.13"/>
<polygon fill="midnightblue" stroke="midnightblue" points="588.05,-570.48 598.65,-570.41 590.32,-563.86 588.05,-570.48"/>
</g>
<g id="node29" class="node">
<rect x="934.5" y="-43" width="124" height="20" fill="black"/><rect x="935.5" y="-42" width="122" height="18" fill="white"/>
<text x="943.062 946.062 954.312 959.562 962.562 966.312 971.562 976.812 980.562 984.312 987.312 993.312 999.312 1004.562 1007.562 1012.812 1018.062 1024.062 1033.812 1039.812 1043.562" y="-30.46">lwcircstring_is_empty</text>
</g>
<g id="edge43" class="edge">
<path fill="none" stroke="midnightblue" d="M829.85,-137.4C846.95,-118.34 887.94,-75.55 931,-52 935.03,-49.8 939.34,-47.82 943.75,-46.06"/>
<polygon fill="midnightblue" stroke="midnightblue" points="945.29,-49.22 953.5,-42.53 942.91,-42.64 945.29,-49.22"/>
</g>
<g id="node30" class="node">
<rect x="933.5" y="-233" width="126" height="20" fill="black"/><rect x="934.5" y="-232" width="124" height="18" fill="white"/>
<text class="h" x="941.938 944.938 953.188 958.438 964.438 967.438 970.438 976.438 981.688 985.438 988.438 994.438 1000.438 1005.688 1008.688 1013.938 1019.188 1025.188 1034.938 1040.938 1044.688" y="-220.96">lwcollection_is_empty</text>
</g>
<g id="edge44" class="edge">
<path fill="none" stroke="midnightblue" d="M850.51,-156.61C872.17,-167.33 902.77,-183.62 931,-195 944.7,-200.52 960.62,-205.23 973.22,-209.66"/>
<polygon fill="midnightblue" stroke="midnightblue" points="972.3,-213.06 982.89,-213.34 974.78,-206.52 972.3,-213.06"/>
</g>
<g id="node31" class="node">
<rect x="948" y="-195" width="97" height="20" fill="black"/><rect x="949" y="-194" width="95" height="18" fill="white"/>
<text class="q" x="956.562 959.562 967.812 970.812 973.812 979.812 985.812 991.062 994.062 999.312 1004.562 1010.562 1020.312 1026.312 1030.062" y="-182.71">lwline_is_empty</text>
</g>
<g id="edge46" class="edge">
<path fill="none" stroke="midnightblue" d="M865.41,-156.59C888.68,-161.67 917.45,-167.96 942.02,-173.32"/>
<polygon fill="midnightblue" stroke="midnightblue" points="941.39,-176.77 951.91,-175.48 942.89,-169.93 941.39,-176.77"/>
</g>
<g id="node32" class="node">
<rect x="944.5" y="-157" width="104" height="20" fill="black"/><rect x="945.5" y="-156" width="102" height="18" fill="white"/>
<text x="953 956 964.25 970.25 976.25 979.25 985.25 989 994.25 997.25 1002.5 1007.75 1013.75 1023.5 1029.5 1033.25" y="-144.46">lwpoint_is_empty</text>
</g>
<g id="edge47" class="edge">
<rect x="873.71" y="-147.5" width="60.93" height="1" fill="midnightblue"/>
<polygon fill="midnightblue" stroke="midnightblue" points="934.83,-150.5 944.83,-147 934.83,-143.5 934.83,-150.5"/>
</g>
<g id="node33" class="node">
<rect x="946.5" y="-81" width="100" height="20" fill="black"/><rect x="947.5" y="-80" width="98" height="18" fill="white"/>
<text class="q" x="955.062 958.062 966.312 972.312 978.312 981.312 987.312 992.562 995.562 1000.812 1006.062 1012.062 1021.812 1027.812 1031.562" y="-68.71">lwpoly_is_empty</text>
</g>
<g id="edge48" class="edge">
<path fill="none" stroke="midnightblue" d="M837.36,-137.49C858.26,-125.26 896.41,-103.94 931,-90 936.76,-87.68 942.9,-85.5 949.03,-83.51"/>
<polygon fill="midnightblue" stroke="midnightblue" points="950.07,-86.85 958.58,-80.54 947.99,-80.17 950.07,-86.85"/>
</g>
<g id="node34" class="node">
<rect x="938" y="-119" width="117" height="20" fill="black"/><rect x="939" y="-118" width="115" height="18" fill="white"/>
<text class="h" x="946.438 949.438 957.688 961.438 965.188 968.188 974.188 980.188 986.188 989.188 995.188 1000.438 1003.438 1008.688 1013.938 1019.938 1029.688 1035.688 1039.438" y="-106.96">lwtriangle_is_empty</text>
</g>
<g id="edge49" class="edge">
<path fill="none" stroke="midnightblue" d="M865.41,-137.41C888.68,-132.33 917.45,-126.04 942.02,-120.68"/>
<polygon fill="midnightblue" stroke="midnightblue" points="942.89,-124.07 951.91,-118.52 941.39,-117.23 942.89,-124.07"/>
</g>
<g id="edge45" class="edge">
<path fill="none" stroke="midnightblue" d="M933.95,-214.17C932.96,-213.78 931.97,-213.39 931,-213 896.54,-199.11 858.54,-177.89 837.6,-162.85"/>
<polygon fill="midnightblue" stroke="midnightblue" points="839.55,-159.94 829.49,-156.62 835.28,-165.49 839.55,-159.94"/>
</g>
<g id="edge55" class="edge">
<path fill="none" stroke="midnightblue" d="M690.46,-608.47C697.34,-606 704.06,-602.9 710,-599 721.98,-591.14 774.64,-520.93 802.34,-483.41"/>
<polygon fill="midnightblue" stroke="midnightblue" points="805.37,-485.19 808.48,-475.06 799.74,-481.04 805.37,-485.19"/>
</g>
<g id="edge56" class="edge">
<path fill="none" stroke="midnightblue" d="M698.38,-608.4C702.73,-605.9 706.7,-602.81 710,-599 755.7,-546.25 725.43,-353.69 746,-287 760.41,-240.27 790.35,-190.79 807.23,-165.01"/>
<polygon fill="midnightblue" stroke="midnightblue" points="810.18,-166.9 812.81,-156.64 804.36,-163.02 810.18,-166.9"/>
</g>
<g id="node36" class="node">
<rect x="755.5" y="-704" width="130" height="20" fill="black"/><rect x="756.5" y="-703" width="128" height="18" fill="white"/>
<text class="h" x="764 770 776 782 788 793.25 798.5 804.5 810.5 814.25 820.25 823.25 829.25 834.5 839.75 845.75 851.75 854.75 860.75 864.5 870.5" y="-691.96">gbox_contains_point3d</text>
</g>
<g id="edge51" class="edge">
<path fill="none" stroke="midnightblue" d="M688.63,-627.53C696.08,-630 703.44,-633.11 710,-637 730.01,-648.87 725.96,-663.19 746,-675 749.7,-677.18 753.66,-679.12 757.74,-680.83"/>
<polygon fill="midnightblue" stroke="midnightblue" points="756.83,-684.23 767.43,-684.45 759.28,-677.68 756.83,-684.23"/>
</g>
<g id="node37" class="node">
<rect x="775.5" y="-666" width="90" height="20" fill="red"/><rect x="776.5" y="-665" width="88" height="18" fill="white"/>
<text class="q" x="784.062 790.062 796.062 802.062 808.062 813.312 817.062 823.062 828.312 833.562 837.312 841.062 844.062 850.062" y="-653.71">gbox_to_string</text>
</g>
<g id="edge52" class="edge">
<path fill="none" stroke="midnightblue" d="M683.8,-627.59C708.74,-632.81 739.74,-639.3 765.81,-644.76"/>
<polygon fill="midnightblue" stroke="midnightblue" points="765.4,-648.25 775.9,-646.87 766.83,-641.4 765.4,-648.25"/>
</g>
<g id="node38" class="node">
<rect x="787.5" y="-628" width="66" height="20" fill="black"/><rect x="788.5" y="-627" width="64" height="18" fill="white"/>
<text x="796.062 802.062 808.062 814.062 820.062 826.062 831.312 837.312 841.062" y="-615.46">geog2cart</text>
</g>
<g id="edge53" class="edge">
<rect x="701.23" y="-618.5" width="76.3" height="1" fill="midnightblue"/>
<polygon fill="midnightblue" stroke="midnightblue" points="777.81,-621.5 787.81,-618 777.81,-614.5 777.81,-621.5"/>
</g>
<g id="node39" class="node">
<rect x="759" y="-590" width="123" height="20" fill="red"/><rect x="760" y="-589" width="121" height="18" fill="white"/>
<text class="h" x="767.562 773.562 779.562 785.562 791.562 795.312 801.312 807.312 813.312 816.312 821.562 826.812 832.812 838.812 841.812 847.812 851.562 856.812 859.812 865.812 868.812" y="-577.96">geographic_point_init</text>
</g>
<g id="edge54" class="edge">
<path fill="none" stroke="midnightblue" d="M683.8,-608.41C708.18,-603.31 738.36,-596.99 764.06,-591.61"/>
<polygon fill="midnightblue" stroke="midnightblue" points="764.96,-595 774.03,-589.52 763.52,-588.14 764.96,-595"/>
</g>
<g id="edge60" class="edge">
<path fill="none" stroke="midnightblue" d="M641.63,-570.17C653.41,-539.01 692.93,-440.52 746,-372 761.06,-352.55 782.32,-334.18 798.1,-321.78"/>
<polygon fill="midnightblue" stroke="midnightblue" points="800.43,-324.4 806.23,-315.54 796.17,-318.85 800.43,-324.4"/>
</g>
<g id="edge63" class="edge">
<path fill="none" stroke="midnightblue" d="M643.47,-570.17C657.73,-545.17 698.27,-478.15 746,-435 759.03,-423.22 775.69,-412.94 789.85,-405.29"/>
<polygon fill="midnightblue" stroke="midnightblue" points="791.48,-408.38 798.73,-400.65 788.24,-402.18 791.48,-408.38"/>
</g>
<g id="edge61" class="edge">
<path fill="none" stroke="midnightblue" d="M683.8,-589.59C712.7,-595.64 749.74,-603.39 777.82,-609.27"/>
<polygon fill="midnightblue" stroke="midnightblue" points="777.22,-612.72 787.72,-611.35 778.65,-605.87 777.22,-612.72"/>
</g>
<g id="edge62" class="edge">
<rect x="710.26" y="-580.5" width="39.07" height="1" fill="midnightblue"/>
<polygon fill="midnightblue" stroke="midnightblue" points="749.46,-583.5 759.46,-580 749.46,-576.5 749.46,-583.5"/>
</g>
<g id="node43" class="node">
<rect x="745.5" y="-1102" width="150" height="20" fill="red"/><rect x="746.5" y="-1101" width="148" height="18" fill="white"/>
<text x="754.062 757.062 765.312 771.312 777.312 783.312 793.062 798.312 802.062 805.812 811.812 821.562 826.812 832.812 838.062 844.062 847.812 850.812 856.812 859.812 862.812 868.062 874.062 880.062" y="-1089.46">lwgeom_from_gserialized1</text>
</g>
<g id="edge70" class="edge">
<path fill="none" stroke="midnightblue" d="M683.8,-1063.59C708.18,-1068.69 738.36,-1075.01 764.06,-1080.39"/>
<polygon fill="midnightblue" stroke="midnightblue" points="763.52,-1083.86 774.03,-1082.48 764.96,-1077 763.52,-1083.86"/>
</g>
<g id="node44" class="node">
<rect x="745.5" y="-1064" width="150" height="20" fill="red"/><rect x="746.5" y="-1063" width="148" height="18" fill="white"/>
<text class="h" x="754.062 757.062 765.312 771.312 777.312 783.312 793.062 798.312 802.062 805.812 811.812 821.562 826.812 832.812 838.062 844.062 847.812 850.812 856.812 859.812 862.812 868.062 874.062 880.062" y="-1051.96">lwgeom_from_gserialized2</text>
</g>
<g id="edge76" class="edge">
<rect x="708.69" y="-1054.5" width="26.91" height="1" fill="midnightblue"/>
<polygon fill="midnightblue" stroke="midnightblue" points="735.71,-1057.5 745.71,-1054 735.71,-1050.5 735.71,-1057.5"/>
</g>
<g id="edge72" class="edge">
<path fill="none" stroke="midnightblue" d="M873.57,-1101.55C881.04,-1104.02 888.41,-1107.12 895,-1111 915.04,-1122.81 911.16,-1136.85 931,-1149 934.43,-1151.1 938.1,-1152.98 941.9,-1154.66"/>
<polygon fill="midnightblue" stroke="midnightblue" points="940.9,-1158.03 951.49,-1158.43 943.47,-1151.52 940.9,-1158.03"/>
</g>
<g id="edge71" class="edge">
<path fill="none" stroke="midnightblue" d="M865.41,-1101.59C888.68,-1106.67 917.45,-1112.96 942.02,-1118.32"/>
<polygon fill="midnightblue" stroke="midnightblue" points="941.39,-1121.77 951.91,-1120.48 942.89,-1114.93 941.39,-1121.77"/>
</g>
<g id="edge73" class="edge">
<path fill="none" stroke="midnightblue" d="M881.95,-1082.47C886.76,-1079.97 891.22,-1076.86 895,-1073 943.59,-1023.41 905.53,-985.58 931,-921 944.93,-885.67 968.38,-848.01 982.84,-826.32"/>
<polygon fill="midnightblue" stroke="midnightblue" points="985.9,-828.04 988.61,-817.79 980.11,-824.11 985.9,-828.04"/>
</g>
<g id="edge75" class="edge">
<path fill="none" stroke="midnightblue" d="M879.3,-1082.42C884.96,-1079.95 890.33,-1076.86 895,-1073 923.81,-1049.19 908.54,-1026.87 931,-997 942.93,-981.13 959.86,-966.37 973.38,-955.86"/>
<polygon fill="midnightblue" stroke="midnightblue" points="975.81,-958.4 981.68,-949.59 971.59,-952.82 975.81,-958.4"/>
</g>
<g id="edge74" class="edge">
<path fill="none" stroke="midnightblue" d="M873.57,-1082.45C881.04,-1079.98 888.41,-1076.88 895,-1073 915.04,-1061.19 911.16,-1047.15 931,-1035 940.11,-1029.42 950.95,-1025.4 961.11,-1022.54"/>
<polygon fill="midnightblue" stroke="midnightblue" points="962.13,-1025.9 970.97,-1020.05 960.41,-1019.11 962.13,-1025.9"/>
</g>
<g id="edge77" class="edge">
<rect x="895.04" y="-1054.5" width="31.27" height="1" fill="midnightblue"/>
<polygon fill="midnightblue" stroke="midnightblue" points="926.45,-1057.5 936.45,-1054 926.45,-1050.5 926.45,-1057.5"/>
</g>
<g id="edge78" class="edge">
<path fill="none" stroke="midnightblue" d="M865.41,-1063.59C888.68,-1068.67 917.45,-1074.96 942.02,-1080.32"/>
<polygon fill="midnightblue" stroke="midnightblue" points="941.39,-1083.77 951.91,-1082.48 942.89,-1076.93 941.39,-1083.77"/>
</g>
<g id="edge79" class="edge">
<path fill="none" stroke="midnightblue" d="M828.7,-1044.42C841.97,-1026.69 871.14,-987.53 895,-954 927.53,-908.27 964.72,-853.59 983.42,-825.93"/>
<polygon fill="midnightblue" stroke="midnightblue" points="986.32,-827.88 989.02,-817.64 980.52,-823.97 986.32,-827.88"/>
</g>
<g id="edge81" class="edge">
<path fill="none" stroke="midnightblue" d="M861.36,-1044.38C872.66,-1040.76 884.68,-1036.03 895,-1030 913.74,-1019.05 914.87,-1011.52 931,-997 946.31,-983.22 963.83,-967.76 976.74,-956.42"/>
<polygon fill="midnightblue" stroke="midnightblue" points="979.28,-958.85 984.49,-949.62 974.66,-953.58 979.28,-958.85"/>
</g>
<g id="edge80" class="edge">
<path fill="none" stroke="midnightblue" d="M865.41,-1044.41C895.05,-1037.94 933.61,-1029.52 961.04,-1023.53"/>
<polygon fill="midnightblue" stroke="midnightblue" points="961.94,-1026.91 970.96,-1021.36 960.45,-1020.07 961.94,-1026.91"/>
</g>
<g id="node46" class="node">
<rect x="399" y="-58" width="109" height="20" fill="red"/><rect x="400" y="-57" width="107" height="18" fill="white"/>
<text x="407.562 410.562 418.812 424.812 430.812 436.812 446.562 451.812 457.812 463.812 469.812 475.062 481.062 487.062 493.062" y="-45.46">lwgeom_add_bbox</text>
</g>
<g id="edge83" class="edge">
<rect x="331.2" y="-48.5" width="57.91" height="1" fill="midnightblue"/>
<polygon fill="midnightblue" stroke="midnightblue" points="389.33,-51.5 399.33,-48 389.33,-44.5 389.33,-51.5"/>
</g>
<g id="node47" class="node">
<rect x="397" y="-20" width="113" height="20" fill="red"/><rect x="398" y="-19" width="111" height="18" fill="white"/>
<text class="h" x="405.5 408.5 416.75 422.75 428.75 434.75 444.5 449.75 455.75 459.5 465.5 471.5 476.75 482.75 488.75 494.75" y="-7.96">lwgeom_drop_bbox</text>
</g>
<g id="edge85" class="edge">
<path fill="none" stroke="midnightblue" d="M315.68,-38.41C340.26,-33.31 370.69,-26.99 396.6,-21.61"/>
<polygon fill="midnightblue" stroke="midnightblue" points="397.57,-24.98 406.65,-19.52 396.15,-18.13 397.57,-24.98"/>
</g>
<g id="edge84" class="edge">
<path fill="none" stroke="midnightblue" d="M507.56,-45.36C560.44,-44.46 643.18,-47.83 710,-72 745.99,-85.02 781.38,-112.72 801.79,-130.57"/>
<polygon fill="midnightblue" stroke="midnightblue" points="799.55,-133.26 809.34,-137.32 804.22,-128.05 799.55,-133.26"/>
</g>
<g id="edge87" class="edge">
<path fill="none" stroke="midnightblue" d="M698.53,-831.22C714,-829.79 730.61,-828.3 746,-827 822.46,-820.55 912.19,-813.95 960.48,-810.49"/>
<polygon fill="midnightblue" stroke="midnightblue" points="960.98,-813.96 970.7,-809.75 960.48,-806.98 960.98,-813.96"/>
</g>
<g id="edge92" class="edge">
<path fill="none" stroke="midnightblue" d="M657.5,-846.56C678.83,-856.71 714.21,-872.69 746,-883 813.42,-904.87 893.69,-921.61 944.62,-931.13"/>
<polygon fill="midnightblue" stroke="midnightblue" points="944.24,-934.62 954.71,-932.99 945.51,-927.74 944.24,-934.62"/>
</g>
<g id="node49" class="node">
<rect x="758.5" y="-856" width="124" height="20" fill="black"/><rect x="759.5" y="-855" width="122" height="18" fill="white"/>
<text x="767 770 778.25 784.25 790.25 796.25 806 811.25 816.5 822.5 826.25 831.5 837.5 843.5 849.5 855.5 861.5 865.25 868.25" y="-843.46">lwgeom_set_geodetic</text>
</g>
<g id="edge88" class="edge">
<path fill="none" stroke="midnightblue" d="M698.69,-840.01C714.73,-840.8 732.19,-841.67 748.72,-842.49"/>
<polygon fill="midnightblue" stroke="midnightblue" points="748.71,-845.99 758.87,-842.99 749.05,-839 748.71,-845.99"/>
</g>
<g id="edge89" class="edge">
<path fill="none" stroke="midnightblue" d="M865.41,-836.41C895.05,-829.94 933.61,-821.52 961.04,-815.53"/>
<polygon fill="midnightblue" stroke="midnightblue" points="961.94,-818.91 970.96,-813.36 960.45,-812.07 961.94,-818.91"/>
</g>
<g id="edge91" class="edge">
<path fill="none" stroke="midnightblue" d="M839.14,-855.53C869.76,-872.07 932.88,-906.17 968.86,-925.61"/>
<polygon fill="midnightblue" stroke="midnightblue" points="967.35,-928.77 977.81,-930.44 970.68,-922.61 967.35,-928.77"/>
</g>
<g id="edge90" class="edge">
<path fill="none" stroke="midnightblue" d="M793.37,-855.76C780.18,-864.57 789.22,-874 820.5,-874 842.01,-874 853,-869.54 853.48,-863.89"/>
<polygon fill="midnightblue" stroke="midnightblue" points="856.31,-861.83 847.63,-855.76 850.63,-865.92 856.31,-861.83"/>
</g>
</g>
</svg>

</body>
</html>
